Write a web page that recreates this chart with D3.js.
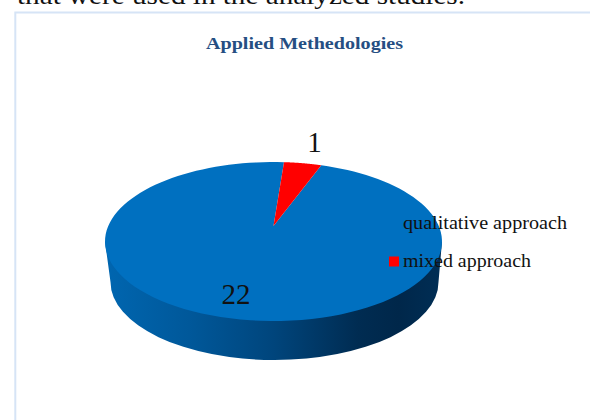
<!DOCTYPE html>
<html><head><meta charset="utf-8">
<script src="https://cdn.jsdelivr.net/npm/d3@7"></script>
<style>html,body{margin:0;padding:0;background:#fff}svg{display:block}</style>
</head><body><svg id="c" width="590" height="420"></svg>
<script>
const categories = ["qualitative approach", "mixed approach"];
const values = [22, 1];
const colors = ["#0070c0", "#ff0000"];
const titleText = "Applied Methedologies";
const captionText = "that were used in the analyzed studies.";

const svg = d3.select("#c");
const W = 590, H = 420;

// layout
const cx = 273.5, cy = 241.5, rx = 168.5, ry = 79.5;
const bcx = 274.5, bcy = 282, brx = 164, bry = 78;
const a = 0.195; // perspective shift of the pie centre
const rot = 20 * Math.PI / 180;

// projective map: pie angle -> point on the tilted rim
const xs = d3.scaleLinear().domain([-1, 1]).range([cx - rx, cx + rx]);
const ys = d3.scaleLinear().domain([-1, 1]).range([cy + ry, cy - ry]);
function proj(x, y) {
  const d = 1 + a * y;
  return [xs(x * Math.sqrt(1 - a * a) / d), ys((y + a) / d)];
}
const rim = t => proj(Math.sin(t), Math.cos(t));

const pie = d3.pie().sort(null).startAngle(rot).endAngle(rot + 2 * Math.PI);
const arcs = pie(values);

const defs = svg.append("defs");
const grad = defs.append("linearGradient").attr("id", "side")
  .attr("gradientUnits", "userSpaceOnUse")
  .attr("x1", cx - rx).attr("x2", cx + rx).attr("y1", 0).attr("y2", 0);
[[0, "#0066b0"], [0.25, "#00589a"], [0.5, "#00457c"], [0.75, "#002c52"], [0.87, "#00274a"], [1, "#002e55"]]
  .forEach(s => grad.append("stop").attr("offset", s[0]).attr("stop-color", s[1]));

// frame
svg.append("path").attr("d", `M15.3,${H} V12.5 H${W}`)
  .attr("fill", "none").attr("stroke", "#d6e4f6").attr("stroke-width", 2);

// caption line from the surrounding document, cropped by the top edge
svg.append("text").attr("x", 17).attr("y", 4)
  .attr("font-family", "Liberation Serif").attr("font-size", 26)
  .attr("fill", "#111").attr("textLength", 448).attr("lengthAdjust", "spacingAndGlyphs").text(captionText);

// title
svg.append("text").attr("x", 304.5).attr("y", 49).attr("text-anchor", "middle")
  .attr("font-family", "Liberation Serif").attr("font-weight", "bold").attr("font-size", 17)
  .attr("fill", "#254e82").attr("textLength", 197).attr("lengthAdjust", "spacingAndGlyphs").text(titleText);

// side wall
svg.append("path")
  .attr("d", `M${cx - rx},${cy} L${bcx - brx},${bcy} A${brx},${bry} 0 0 0 ${bcx + brx},${bcy} L${cx + rx},${cy} Z`)
  .attr("fill", "url(#side)");

// top slices
const apex = proj(0, 0);
svg.selectAll("path.slice").data(arcs).join("path").attr("class", "slice")
  .attr("fill", (d, i) => colors[i])
  .attr("d", d => {
    const steps = d3.range(0, 121).map(i => rim(d.startAngle + (d.endAngle - d.startAngle) * i / 120));
    return "M" + apex + "L" + steps.join("L") + "Z";
  });

// data labels
const labelPos = [[236, 304], [314.5, 152]];
svg.selectAll("text.val").data(values).join("text").attr("class", "val")
  .attr("x", (d, i) => labelPos[i][0]).attr("y", (d, i) => labelPos[i][1])
  .attr("text-anchor", "middle").attr("font-family", "Liberation Serif")
  .attr("font-size", 29).attr("fill", "#111").text(d => d);

// legend
const legendWidths = [164, 128];
const ly = d3.scalePoint().domain(categories).range([224, 261.5]);
const lg = svg.selectAll("g.lg").data(categories).join("g").attr("class", "lg")
  .attr("transform", d => `translate(0,${ly(d)})`);
lg.append("rect").attr("x", 389).attr("y", -5).attr("width", 10).attr("height", 10)
  .attr("fill", (d, i) => colors[i]);
lg.append("text").attr("x", 403).attr("y", 5).attr("font-family", "Liberation Serif")
  .attr("font-size", 18).attr("fill", "#111")
  .attr("textLength", (d, i) => legendWidths[i]).attr("lengthAdjust", "spacingAndGlyphs").text(d => d);
</script></body></html>
